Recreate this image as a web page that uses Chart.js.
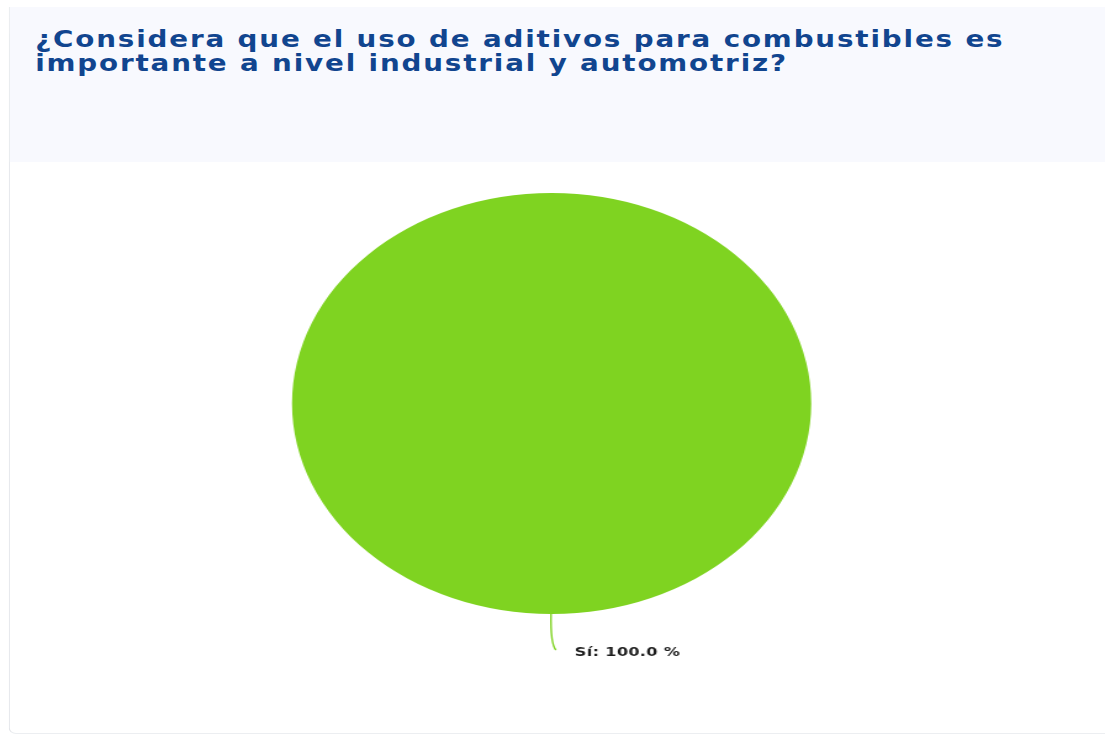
<!DOCTYPE html>
<html>
<head>
<meta charset="utf-8">
<script src="https://cdn.jsdelivr.net/npm/chart.js@4.4.1/dist/chart.umd.min.js"></script>
<style>
  html, body { margin: 0; padding: 0; background: #ffffff; overflow: hidden; }
  /* whole picture is stretched sideways in the reference */
  #stage {
    position: absolute; left: 0; top: 0;
    width: 896px; height: 737px;
    transform: scaleX(1.2333); transform-origin: 0 0;
  }
  .card {
    position: absolute; left: 6.5px; top: 7px; width: 892px; height: 727px;
    border-left: 1px solid #e4e6ea; border-bottom: 1px solid #eceef1;
    border-radius: 0 0 0 6px;
    background: #fff; box-sizing: border-box;
  }
  .card-head {
    position: absolute; left: 0; top: 0; right: 0; height: 155px;
    background: #f8f9fe;
  }
  .card-head h2 {
    margin: 0; position: absolute; left: 21px; top: 20px;
    font-family: "DejaVu Sans", sans-serif; font-weight: bold;
    font-size: 22.5px; line-height: 24px; letter-spacing: 1.5px; color: #11458f;
    white-space: nowrap;
  }
  #pieWrap { position: absolute; left: 0; top: 193px; width: 896px; height: 544px; }
</style>
</head>
<body>
<div id="stage">
  <div class="card">
    <div class="card-head">
      <h2>¿Considera que el uso de aditivos para combustibles es<br>importante a nivel industrial y automotriz?</h2>
    </div>
  </div>
  <div id="pieWrap"><canvas id="pieChart"></canvas></div>
</div>

<script>
// data
const categories = ['Sí'];
const percentValues = [100.0];
const sliceColors = ['#7fd321'];

// leader line + label under each slice
const sliceLabels = {
  id: 'sliceLabels',
  afterDatasetsDraw(chart) {
    const ctx = chart.ctx;
    const meta = chart.getDatasetMeta(0);
    meta.data.forEach((arc, i) => {
      const p = arc.getProps(['x', 'y', 'startAngle', 'endAngle', 'outerRadius'], true);
      const mid = (p.startAngle + p.endAngle) / 2;
      const px = p.x + Math.cos(mid) * p.outerRadius - 0.5;
      const py = p.y + Math.sin(mid) * p.outerRadius;
      ctx.save();
      ctx.strokeStyle = sliceColors[i];
      ctx.lineWidth = 1.4;
      ctx.beginPath();
      ctx.moveTo(px, py);
      ctx.quadraticCurveTo(px - 0.5, py + 30, px + 4, py + 36);
      ctx.stroke();
      ctx.fillStyle = '#1c1c1c';
      ctx.font = 'bold 13px "DejaVu Sans", sans-serif';
      ctx.letterSpacing = '0.3px';
      ctx.textBaseline = 'middle';
      ctx.fillText(categories[i] + ': ' + percentValues[i].toFixed(1) + ' %', px + 19.3, py + 39);
      ctx.restore();
    });
  }
};

new Chart(document.getElementById('pieChart'), {
  type: 'pie',
  data: {
    labels: categories,
    datasets: [{
      data: percentValues,
      backgroundColor: sliceColors,
      borderWidth: 0,
      hoverOffset: 0
    }]
  },
  options: {
    responsive: true,
    maintainAspectRatio: false,
    animation: false,
    layout: { padding: { left: 0, right: 1.5, top: 0, bottom: 123 } },
    plugins: {
      legend: { display: false },
      tooltip: { enabled: false }
    }
  },
  plugins: [sliceLabels]
});
</script>
</body>
</html>
